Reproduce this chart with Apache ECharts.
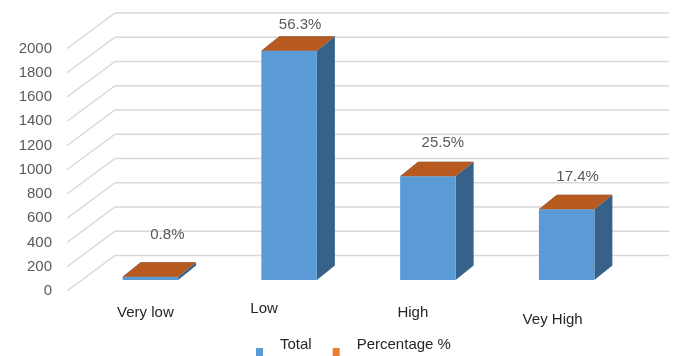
<!DOCTYPE html>
<html>
<head>
<meta charset="utf-8">
<script src="https://cdn.jsdelivr.net/npm/echarts@6/dist/echarts.min.js"></script>
<style>
  html, body { margin: 0; padding: 0; background: #ffffff; }
  #chart { width: 678px; height: 356px; }
</style>
</head>
<body>
<div id="chart"></div>
<script>
// Data
const categories = ['Very low', 'Low', 'High', 'Vey High'];
const totals = [27, 1890, 856, 584];
const percentages = [0.8, 56.3, 25.5, 17.4];
const gridValues = [0, 200, 400, 600, 800, 1000, 1200, 1400, 1600, 1800, 2000];

// Oblique 3D look: offsets in pixels
const WALL_DEPTH = [48, -35.5];   // front edge -> back wall
const BAR_DEPTH = [18, -14.5];    // bar front face -> bar back face
// Per-bar nudges for value labels and category labels (pixels)
const valueLabelShift = [[17, -41.5], [11, -25.5], [15, -33.5], [11, -32.5]];
const categoryLabelShift = [[-5, 33], [-25, 29], [-15, 33], [-14, 40]];

const FONT = '"Liberation Sans", Arial, sans-serif';
// Legend swatch sits low in a taller box so the name rides above it
const LEGEND_ICON = 'path://M0,0L19,0L0,0Z M0,16L7,16L7,24L0,24Z M0,26L0,26Z';

const chart = echarts.init(document.getElementById('chart'), null, { renderer: 'canvas' });

function prism(xl, xr, yTop, yBase, front, side, top) {
  const [dx, dy] = BAR_DEPTH;
  return [
    { type: 'polygon', shape: { points: [[xr, yTop], [xr + dx, yTop + dy], [xr + dx, yBase + dy], [xr, yBase]] },
      style: { fill: side } },
    { type: 'polygon', shape: { points: [[xl, yBase], [xl, yTop], [xr, yTop], [xr, yBase]] },
      style: { fill: front } },
    { type: 'polygon', shape: { points: [[xl, yTop], [xr, yTop], [xr + dx, yTop + dy], [xl + dx, yTop + dy]] },
      style: { fill: top } }
  ];
}

const option = {
  animation: false,
  backgroundColor: '#ffffff',
  grid: [
    // front plane (value labels, wall gridlines)
    { left: 67, right: 57, top: 48.5, bottom: 65 },
    // bar plane
    { left: 81, right: 42, top: 37.5, bottom: 76 }
  ],
  xAxis: [
    { gridIndex: 0, type: 'value', min: 0, max: 1, show: false },
    { gridIndex: 1, type: 'category', data: categories, show: false }
  ],
  yAxis: [
    { gridIndex: 0, type: 'value', min: 0, max: 2000, interval: 200,
      axisLine: { show: false }, axisTick: { show: false }, splitLine: { show: false },
      axisLabel: { color: '#595959', fontSize: 15, fontFamily: FONT, margin: 15,
                   padding: [4, 0, 0, 0], formatter: v => String(v) } },
    { gridIndex: 1, type: 'value', min: 0, max: 2000, interval: 200, show: false }
  ],
  legend: {
    data: ['Total', 'Percentage %'],
    left: 256,
    top: 332,
    padding: 0,
    icon: LEGEND_ICON,
    itemWidth: 19,
    itemHeight: 26,
    itemGap: 21,
    textStyle: { color: '#262626', fontSize: 15, fontFamily: FONT }
  },
  series: [
    {
      name: 'walls',
      type: 'custom',
      xAxisIndex: 0,
      yAxisIndex: 0,
      silent: true,
      z: 1,
      data: gridValues.map(v => [0, v]),
      renderItem(params, api) {
        const v = api.value(1);
        const p0 = api.coord([0, v]);
        const p1 = api.coord([1, v]);
        const [dx, dy] = WALL_DEPTH;
        return {
          type: 'polyline',
          shape: { points: [[p0[0], p0[1]], [p0[0] + dx, p0[1] + dy], [p1[0] + dx, p1[1] + dy]] },
          style: { stroke: '#d9d9d9', lineWidth: 1.5, fill: null }
        };
      }
    },
    {
      name: 'Total',
      type: 'custom',
      xAxisIndex: 1,
      yAxisIndex: 1,
      z: 2,
      itemStyle: { color: '#5B9BD5' },
      data: totals.map((v, i) => [i, v]),
      renderItem(params, api) {
        const i = api.value(0);
        const top = api.coord([i, api.value(1)]);
        const base = api.coord([i, 0]);
        const w = api.size([1, 0])[0] * 0.4;
        const children = prism(top[0] - w / 2, top[0] + w / 2, top[1], base[1], '#5B9BD5', '#376189', '#5B9BD5');
        const s = categoryLabelShift[i];
        children.push({
          type: 'text',
          style: {
            x: base[0] + s[0], y: base[1] + s[1],
            text: categories[i], fill: '#262626', font: '15px ' + FONT,
            align: 'center', verticalAlign: 'middle'
          }
        });
        return { type: 'group', children };
      }
    },
    {
      // stacked on Total as a fraction (56.3% -> 0.563), so only its top face shows
      name: 'Percentage %',
      type: 'custom',
      xAxisIndex: 1,
      yAxisIndex: 1,
      z: 3,
      itemStyle: { color: '#ED7D31' },
      data: percentages.map((p, i) => [i, totals[i], p]),
      renderItem(params, api) {
        const i = api.value(0);
        const start = api.value(1);
        const p = api.value(2);
        const lo = api.coord([i, start]);
        const hi = api.coord([i, start + p / 100]);
        const w = api.size([1, 0])[0] * 0.4;
        const children = prism(lo[0] - w / 2, lo[0] + w / 2, hi[1], lo[1], '#ED7D31', '#A04F1C', '#B65A20');
        const s = valueLabelShift[i];
        children.push({
          type: 'text',
          style: {
            x: lo[0] + s[0], y: hi[1] + s[1],
            text: p.toFixed(1) + '%', fill: '#595959', font: '15px ' + FONT,
            align: 'center', verticalAlign: 'middle'
          }
        });
        return { type: 'group', children };
      }
    }
  ]
};

chart.setOption(option);
</script>
</body>
</html>
